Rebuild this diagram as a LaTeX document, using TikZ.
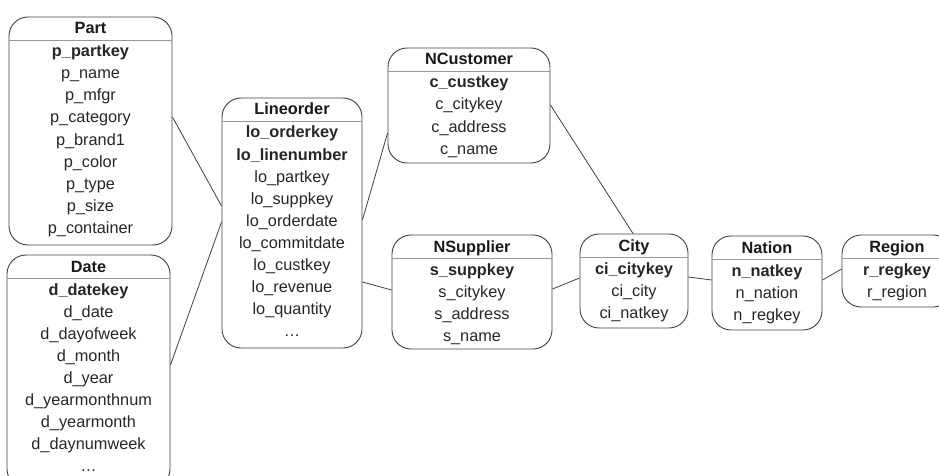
\documentclass[tikz,border=0pt]{standalone}
\usepackage{fontspec}
\setmainfont{Liberation Sans}
\usetikzlibrary{fit}

\tikzset{
  tblbox/.style={draw=black!75, line width=.9pt, rounded corners=19pt, inner sep=0pt},
  tblsep/.style={draw=black!40, line width=.9pt},
  tbltitle/.style={font=\fontsize{16.3}{18}\selectfont\bfseries, text=black!90, inner sep=0pt, text height=11.5pt, text depth=3.5pt},
  tblfield/.style={font=\fontsize{16.3}{18}\selectfont, text=black!85, inner sep=0pt, text height=11.5pt, text depth=3.5pt},
  rel/.style={draw=black!75, line width=.8pt}
}

% name, left, top, right, bottom, title, fields
\newcommand{\entity}[7]{%
  \node[tblbox, fit={(#2,#3) (#4,#5)}] (#1) {};
  \node[tbltitle] (#1-title) at ({(#2+#4)/2},{#3+13}) {#6};
  \draw[tblsep] (#1.west |- 0,{#3+23}) -- (#1.east |- 0,{#3+23});
  \foreach \f [count=\i] in {#7}
    \node[tblfield] (#1-\i) at ({(#2+#4)/2},{#3+36+22*(\i-1)}) {\f};
}

\begin{document}
\begin{tikzpicture}[x=1pt,y=-1pt]
  \useasboundingbox (0,0) rectangle (939,476);

  \entity{part}{9}{17}{172}{245}{Part}{\textbf{p\_partkey}, p\_name, p\_mfgr, p\_category, p\_brand1, p\_color, p\_type, p\_size, p\_container}
  \entity{date}{7}{255}{170}{488}{Date}{\textbf{d\_datekey}, d\_date, d\_dayofweek, d\_month, d\_year, d\_yearmonthnum, d\_yearmonth, d\_daynumweek, \dots}
  \entity{lo}{222}{98}{362}{348}{Lineorder}{\textbf{lo\_orderkey}, \textbf{lo\_linenumber}, lo\_partkey, lo\_suppkey, lo\_orderdate, lo\_commitdate, lo\_custkey, lo\_revenue, lo\_quantity, \dots}
  \entity{cust}{388}{48}{550}{163}{NCustomer}{\textbf{c\_custkey}, c\_citykey, c\_address, c\_name}
  \entity{supp}{392}{235}{552}{349}{NSupplier}{\textbf{s\_suppkey}, s\_citykey, s\_address, s\_name}
  \entity{city}{580}{234}{688}{328}{City}{\textbf{ci\_citykey}, ci\_city, ci\_natkey}
  \entity{nation}{712}{236}{822}{330}{Nation}{\textbf{n\_natkey}, n\_nation, n\_regkey}
  \entity{region}{842}{235}{952}{307}{Region}{\textbf{r\_regkey}, r\_region}

  % relations
  \draw[rel] (part.east |- 0,117) -- (lo.west |- 0,206);
  \draw[rel] (date.east |- 0,365) -- (lo.west |- 0,222);
  \draw[rel] (lo.east |- 0,220) -- (cust.west |- 0,133);
  \draw[rel] (lo.east |- 0,282) -- (supp.west |- 0,290);
  \draw[rel] (cust.east |- 0,105) -- (city.north -| 633,0);
  \draw[rel] (supp.east |- 0,289) -- (city.west |- 0,278);
  \draw[rel] (city.east |- 0,277) -- (nation.west |- 0,280);
  \draw[rel] (nation.east |- 0,280) -- (region.west |- 0,269);
\end{tikzpicture}
\end{document}
